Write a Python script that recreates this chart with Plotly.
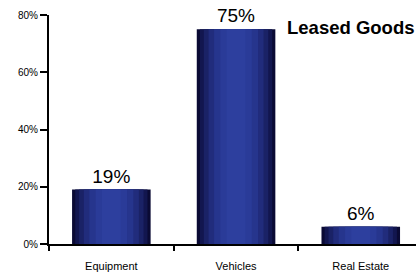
import plotly.graph_objects as go

categories = ["Equipment", "Vehicles", "Real Estate"]
shares = [0.19, 0.75, 0.06]
label_texts = ["19%", "75%", "6%"]
y_ticks = [0, 0.2, 0.4, 0.6, 0.8]
y_tick_labels = ["0%", "20%", "40%", "60%", "80%"]
title_text = "Leased Goods"

FONT = "Liberation Sans, Arial, sans-serif"

# gradient layers: (width fraction, color) from outer to inner
layers = [
    (1.00, "#0a0a34"),
    (0.92, "#12164f"),
    (0.82, "#1a2266"),
    (0.70, "#212c7c"),
    (0.56, "#26358d"),
    (0.40, "#2a3b98"),
    (0.24, "#2d3f9e"),
]
base_width = 0.63

fig = go.Figure()
for i, (frac, color) in enumerate(layers):
    kw = {}
    if i == 0:
        kw = dict(text=label_texts, textposition="outside",
                  textfont=dict(family=FONT, size=19, color="#000000"),
                  constraintext="none", cliponaxis=False)
    fig.add_trace(go.Bar(
        x=categories, y=shares, width=base_width * frac,
        marker=dict(color=color, line=dict(width=0)),
        hoverinfo="skip", showlegend=False, **kw))

fig.update_layout(
    barmode="overlay",
    width=416, height=279,
    margin=dict(l=49, r=0, t=15, b=35, autoexpand=False),
    paper_bgcolor="white", plot_bgcolor="white",
    font=dict(family=FONT, size=11, color="#000000"),
    annotations=[dict(text="<b>" + title_text + "</b>", xref="paper", yref="paper",
                      x=1.0, y=0.944, xanchor="right", yanchor="middle", showarrow=False,
                      font=dict(family=FONT, size=18.5, color="#000000"))],
)
fig.update_xaxes(
    range=[-0.5, 2.443], showline=True, linecolor="#000000", linewidth=2,
    ticks="outside", tickson="boundaries", ticklen=5, tickwidth=2, tickcolor="#000000",
    ticklabelstandoff=11, showgrid=False, zeroline=False, automargin=False,
    tickfont=dict(family=FONT, size=11, color="#000000"),
)
fig.update_yaxes(
    range=[0, 0.8], tickvals=y_ticks, ticktext=y_tick_labels,
    showline=True, linecolor="#000000", linewidth=2,
    ticks="outside", ticklen=7, tickwidth=2, tickcolor="#000000",
    showgrid=False, zeroline=False, automargin=False,
    tickfont=dict(family=FONT, size=10, color="#000000"),
)

fig.write_html("out.html", config={"displayModeBar": False},
               post_script="document.body.style.margin='0';")
